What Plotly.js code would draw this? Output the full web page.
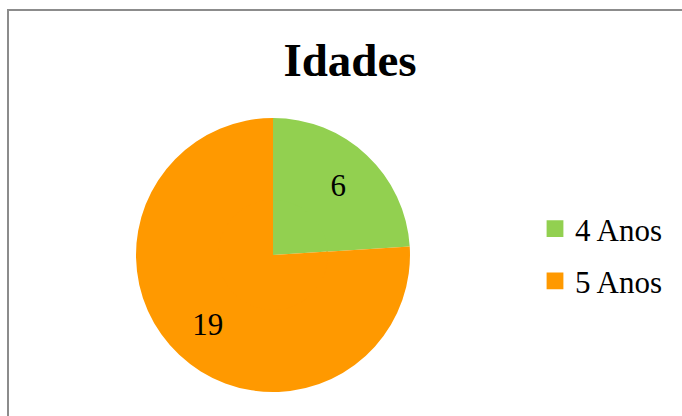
<!DOCTYPE html>
<html>
<head>
<meta charset="utf-8">
<script src="https://cdn.plot.ly/plotly-3.0.1.min.js"></script>
<style>
  html, body { margin: 0; padding: 0; background: #fff; }
  #wrap { position: relative; width: 682px; height: 416px; overflow: hidden; }
  #frame { position: absolute; left: 7px; top: 9px; width: 690px; height: 420px;
           border-top: 2px solid #8c8c8c; border-left: 2px solid #8c8c8c; }
  #chart { position: absolute; left: 0; top: 0; width: 682px; height: 416px; }
</style>
</head>
<body>
<div id="wrap">
  <div id="frame"></div>
  <div id="chart"></div>
</div>
<script>
const titleText = "Idades";
const categories = ["4 Anos", "5 Anos"];
const values = [6, 19];
const colors = ["#92D050", "#FF9900"];

const W = 682, H = 416;
const FONT = "Liberation Serif, Times New Roman, serif";
// pie geometry (pixels)
const CX = 273, CY = 255, R = 137, HOLE = 0.39;
const RIN = R * HOLE + 1.5;

function domainFor(r) {
  return { x: [(CX - r) / W, (CX + r) / W], y: [(H - CY - r) / H, (H - CY + r) / H] };
}

const outer = {
  type: "pie",
  labels: categories,
  values: values,
  sort: false,
  direction: "clockwise",
  rotation: 0,
  hole: HOLE,
  textinfo: "value",
  textposition: "inside",
  insidetextorientation: "horizontal",
  textfont: { family: FONT, size: 31, color: "#000" },
  marker: { colors: colors, line: { color: "#ffffff", width: 0 } },
  domain: domainFor(R),
  hoverinfo: "none"
};
const inner = {
  type: "pie",
  labels: categories,
  values: values,
  sort: false,
  direction: "clockwise",
  rotation: 0,
  textinfo: "none",
  marker: { colors: colors, line: { color: "#ffffff", width: 0 } },
  domain: domainFor(RIN),
  showlegend: false,
  hoverinfo: "none"
};

const layout = {
  width: W, height: H,
  margin: { l: 0, r: 0, t: 0, b: 0 },
  paper_bgcolor: "rgba(0,0,0,0)",
  plot_bgcolor: "rgba(0,0,0,0)",
  font: { family: FONT, color: "#000" },
  title: {
    text: "<b>" + titleText + "</b>",
    font: { family: FONT, size: 47, color: "#000" },
    x: 350 / W, xanchor: "center",
    y: 1 - 60 / H, yanchor: "middle"
  },
  showlegend: true,
  legend: {
    x: 535 / W, xanchor: "left",
    y: 1 - 255 / H, yanchor: "middle",
    font: { family: FONT, size: 31, color: "#000" },
    bgcolor: "rgba(0,0,0,0)",
    itemwidth: 30
  }
};

Plotly.newPlot("chart", [outer, inner], layout, { staticPlot: true, displayModeBar: false }).then(function (gd) {
  // enlarge legend swatches and spread the legend rows like the reference
  gd.querySelectorAll(".legend .legendpoints path").forEach(function (p) {
    p.setAttribute("transform", "translate(20,0) scale(1.4)");
  });
  const items = gd.querySelectorAll(".legend .traces");
  items.forEach(function (g, i) {
    const t = g.getAttribute("transform") || "";
    const m = t.match(/translate\(\s*([-\d.]+)[ ,]+([-\d.]+)\s*\)/);
    if (m) {
      const dy = (i - (items.length - 1) / 2) * 9;
      g.setAttribute("transform", "translate(" + m[1] + "," + (parseFloat(m[2]) + dy) + ")");
    }
  });
});
</script>
</body>
</html>
